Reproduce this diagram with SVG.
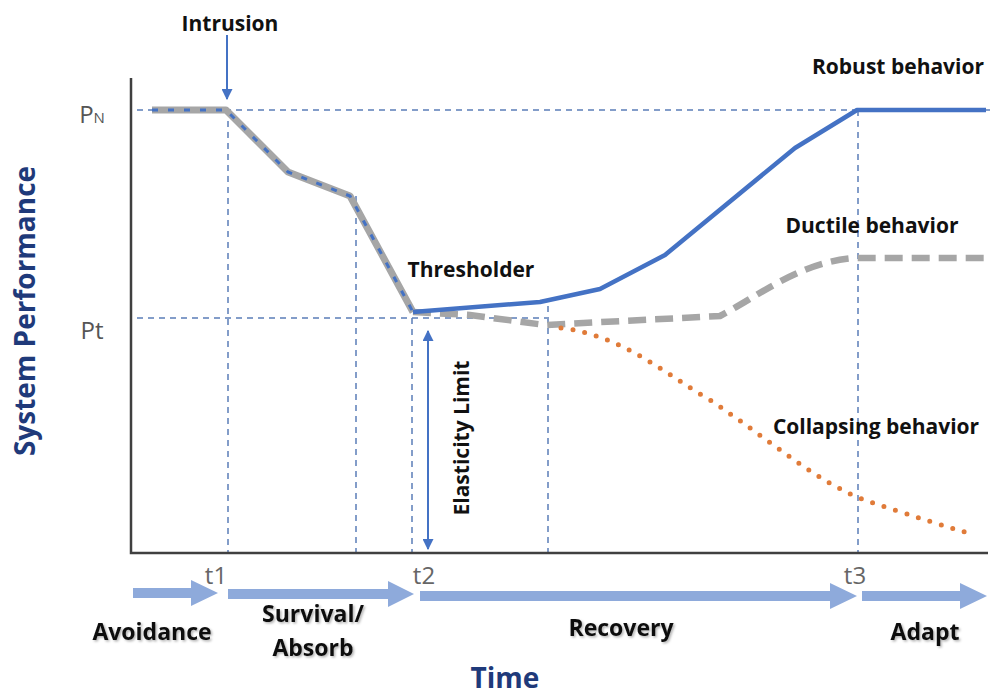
<svg xmlns="http://www.w3.org/2000/svg" width="1001" height="695" viewBox="0 0 1001 695">
  <defs>
    <style>
      .guide { fill: none; stroke: #5b7db8; stroke-width: 1.5; stroke-dasharray: 6 5; }
      .axis { fill: none; stroke: #404040; stroke-width: 2.5; }
      .lbl { font-family: "Open Sans", "Liberation Sans", sans-serif; font-weight: 700; fill: #111; font-size: 21px; }
      .phaseLbl { font-family: "Open Sans", "Liberation Sans", sans-serif; font-weight: 700; fill: #111; font-size: 23px; filter: url(#soft); }
      .tick { font-family: "Open Sans", "Liberation Sans", sans-serif; fill: #666; font-size: 24px; }
      .title { font-family: "Open Sans", "Liberation Sans", sans-serif; font-weight: 700; fill: #1f3a7a; font-size: 28px; }
      .phase { fill: #8eaadb; }
    </style>
    <filter id="soft" x="-10%" y="-20%" width="120%" height="150%">
      <feDropShadow dx="1.5" dy="1.5" stdDeviation="1" flood-color="#000" flood-opacity="0.3"/>
    </filter>
    <marker id="blueHead" viewBox="0 0 10 10" refX="9" refY="5" markerWidth="5.5" markerHeight="5.5" orient="auto-start-reverse">
      <path d="M0,0 L10,5 L0,10 z" fill="#4472c4"/>
    </marker>
  </defs>

  <rect width="1001" height="695" fill="#ffffff"/>

  <!-- reference guide lines -->
  <g id="guides">
    <line class="guide" x1="137" y1="110" x2="992" y2="110"/>
    <line class="guide" x1="137" y1="318" x2="547" y2="318"/>
    <line class="guide" x1="228" y1="110" x2="228" y2="553"/>
    <line class="guide" x1="356" y1="196" x2="356" y2="553"/>
    <line class="guide" x1="412" y1="318" x2="412" y2="553"/>
    <line class="guide" x1="548" y1="306" x2="548" y2="553"/>
    <line class="guide" x1="858" y1="110" x2="858" y2="553"/>
  </g>

  <!-- axes -->
  <g id="axes">
    <polyline class="axis" points="131,78 131,553 988,553"/>
  </g>

  <!-- performance curves -->
  <g id="connectors">
    <!-- shared degradation path -->
    <polyline points="152,110 226,110 288,172 350,196 413,312" fill="none" stroke="#a6a6a6" stroke-width="7" stroke-linejoin="round"/>
    <polyline points="152,110 226,110 288,172 350,196 413,312" fill="none" stroke="#4472c4" stroke-width="3" stroke-dasharray="6 10"/>
    <!-- ductile -->
    <path d="M413,312 L470,315 L545,325 L720,316 C760,295 800,262 855,258 L986,258" fill="none" stroke="#a6a6a6" stroke-width="6.5" stroke-dasharray="18 9"/>
    <!-- robust -->
    <polyline points="413,312 540,302 600,289 665,255 795,148 857,110 986,110" fill="none" stroke="#4472c4" stroke-width="4.5" stroke-linejoin="round"/>
    <!-- collapsing -->
    <path d="M561,328 C620,335 660,370 710,400 C770,440 820,485 870,502 C910,515 940,525 972,534" fill="none" stroke="#e07b39" stroke-width="5" stroke-linecap="round" stroke-dasharray="0 12"/>
    <!-- intrusion marker -->
    <line x1="227" y1="35" x2="227" y2="99" stroke="#4472c4" stroke-width="2" marker-end="url(#blueHead)"/>
    <!-- elasticity range -->
    <line x1="428" y1="331" x2="428" y2="549" stroke="#4472c4" stroke-width="2" marker-start="url(#blueHead)" marker-end="url(#blueHead)"/>
  </g>

  <!-- phase arrows -->
  <g id="phases">
    <path class="phase" d="M133,588 H191 V580 L218,593 L191,606 V598 H133 Z"/>
    <path class="phase" d="M228,589 H388 V581 L414,594 L388,607 V599 H228 Z"/>
    <path class="phase" d="M420,591 H830 V583 L857,596 L830,609 V601 H420 Z"/>
    <path class="phase" d="M862,591 H960 V583 L987,596 L960,609 V601 H862 Z"/>
  </g>

  <g id="labels">
    <text class="lbl" x="230" y="31" text-anchor="middle">Intrusion</text>
    <text class="lbl" x="471" y="277" text-anchor="middle">Thresholder</text>
    <text class="lbl" x="898" y="74" text-anchor="middle">Robust behavior</text>
    <text class="lbl" x="872" y="233" text-anchor="middle">Ductile behavior</text>
    <text class="lbl" x="876" y="434" text-anchor="middle">Collapsing behavior</text>
    <text class="lbl" transform="translate(469,438) rotate(-90)" font-size="20" text-anchor="middle">Elasticity Limit</text>
    <text x="92" y="123" font-family="Open Sans, Liberation Sans, sans-serif" font-size="24" fill="#555" text-anchor="middle">P<tspan font-size="15">N</tspan></text>
    <text x="92" y="339" font-family="Open Sans, Liberation Sans, sans-serif" font-size="24" fill="#555" text-anchor="middle">Pt</text>
    <text class="tick" x="216" y="584" text-anchor="middle">t1</text>
    <text class="tick" x="424" y="584" text-anchor="middle">t2</text>
    <text class="tick" x="855" y="584" text-anchor="middle">t3</text>
    <text class="title" transform="translate(35,311) rotate(-90)" text-anchor="middle">System Performance</text>
    <text class="title" x="505" y="688" text-anchor="middle">Time</text>
    <text class="phaseLbl" x="152" y="640" text-anchor="middle">Avoidance</text>
    <text class="phaseLbl" x="313" y="622" text-anchor="middle">Survival/</text>
    <text class="phaseLbl" x="313" y="656" text-anchor="middle">Absorb</text>
    <text class="phaseLbl" x="621" y="636" text-anchor="middle">Recovery</text>
    <text class="phaseLbl" x="925" y="640" text-anchor="middle">Adapt</text>
  </g>
</svg>
